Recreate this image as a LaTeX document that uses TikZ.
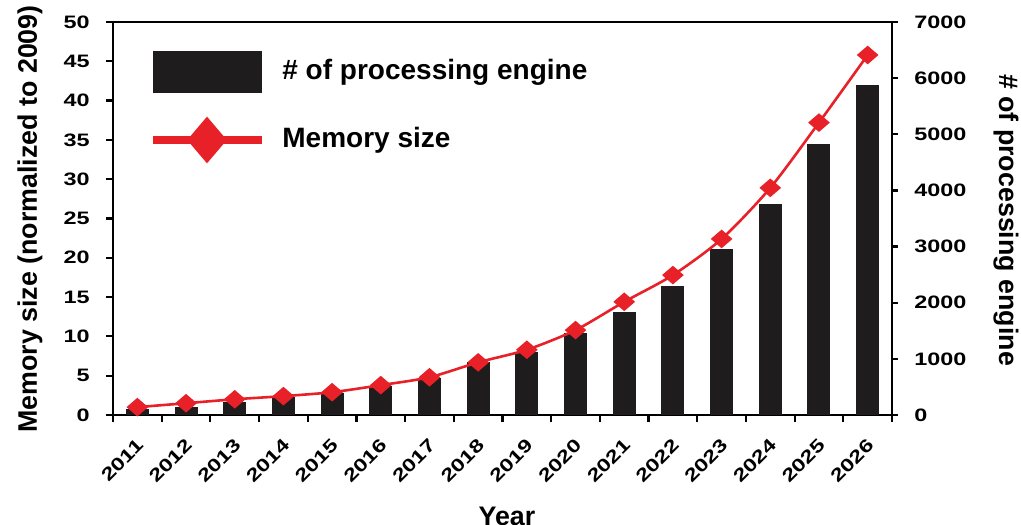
\documentclass[tikz,border=0pt]{standalone}
\usepackage{fontspec}
\setmainfont{Liberation Sans}
\usepackage{graphicx}
\usetikzlibrary{shapes.geometric}

\definecolor{memred}{RGB}{232,32,40}
\definecolor{barblack}{RGB}{30,28,29}
\newcommand{\tickfont}{\fontsize{9}{9}\selectfont\bfseries}
\newcommand{\wide}[1]{\scalebox{1.3}[1]{#1}}

\begin{document}
\begin{tikzpicture}[x=0.5pt, y=0.5pt,
		axis/.style={line width=1.2pt},
		tick/.style={line width=1.1pt},
		ticklabel/.style={font=\tickfont, inner sep=0pt},
		bar/.style={fill=barblack},
		memline/.style={memred, line width=1.3pt},
		memmark/.style={diamond, fill=memred, inner sep=0pt, minimum width=11pt, minimum height=9.5pt},
		axislabel/.style={font=\fontsize{13.4}{15}\selectfont\bfseries},
		legendtext/.style={font=\fontsize{14}{16}\selectfont\bfseries, anchor=west, inner sep=0pt}]
				\useasboundingbox (0,0) rectangle (1021,524);
				
				% frame
				\coordinate (o) at (113,109);
				\coordinate (tr) at (892,502);
				\draw[axis] (o) rectangle (tr);
				
				% left axis
				\foreach \v in {0,5,...,50}{
				\draw[tick] (106,{109+7.86*\v}) -- (113,{109+7.86*\v});
				\node[ticklabel, anchor=east] (l\v) at (90,{109+7.86*\v}) {\wide{\v}};
				}
				
				% right axis
				\foreach \w in {0,1000,...,7000}{
				\draw[tick] (892,{109+0.056143*\w}) -- (898,{109+0.056143*\w});
				\node[ticklabel, anchor=west] (r\w) at (914,{109+0.056143*\w}) {\wide{\w}};
				}
				
				% years
				\foreach \i in {0,...,16}
				\draw[tick] ({113+48.6875*\i},109) -- ({113+48.6875*\i},102);
				
				\foreach \y [count=\i] in {2011,...,2026}
				\node[ticklabel, rotate=45, anchor=east] (yr\i) at ({113+48.6875*(\i-0.5)+3},82) {\wide{\y}};
				
				% processing engines
				\foreach \h [count=\i] in {100,150,230,320,400,520,660,945,1120,1460,1840,2300,2960,3760,4830,5870}
				\fill[bar] ({113+48.6875*(\i-0.5)-11.5},109) rectangle ({113+48.6875*(\i-0.5)+11.5},{109+0.056143*\h});
				
				% memory size
				\foreach \m [count=\i] in {1.0,1.5,2.0,2.4,2.9,3.8,4.8,6.7,8.3,10.8,14.4,17.8,22.4,28.9,37.2,45.8}
				\coordinate (p\i) at ({113+48.6875*(\i-0.5)},{109+7.86*\m});
				
				\draw[memline] plot[smooth, tension=0.45] coordinates {(p1) (p2) (p3) (p4) (p5) (p6) (p7) (p8) (p9) (p10) (p11) (p12) (p13) (p14) (p15) (p16)};
				
				\foreach \i in {1,...,16}
				\node[memmark] (m\i) at (p\i) {};
				
				% legend
				\fill[bar] (153,431) rectangle (262,473);
				\node[legendtext] (legbar) at (282,452) {\# of processing engine};
				\coordinate (legl) at (153,384);
				\coordinate (legr) at (262,384);
				\draw[memred, line width=4pt] (legl) -- (legr);
				\node[diamond, fill=memred, inner sep=0pt, minimum width=20pt, minimum height=23.5pt] (legmark) at (207,384) {};
				\node[legendtext] (legmem) at (282,384) {Memory size};
				
				% axis titles
				\node[axislabel, rotate=90] (ytitle) at (30,305) {Memory size (normalized to 2009)};
				\node[axislabel, rotate=-90] (y2title) at (1006,304) {\# of processing engine};
				\node[axislabel, anchor=base] (xtitle) at (507,-2) {Year};
				
		\end{tikzpicture}
\end{document}
